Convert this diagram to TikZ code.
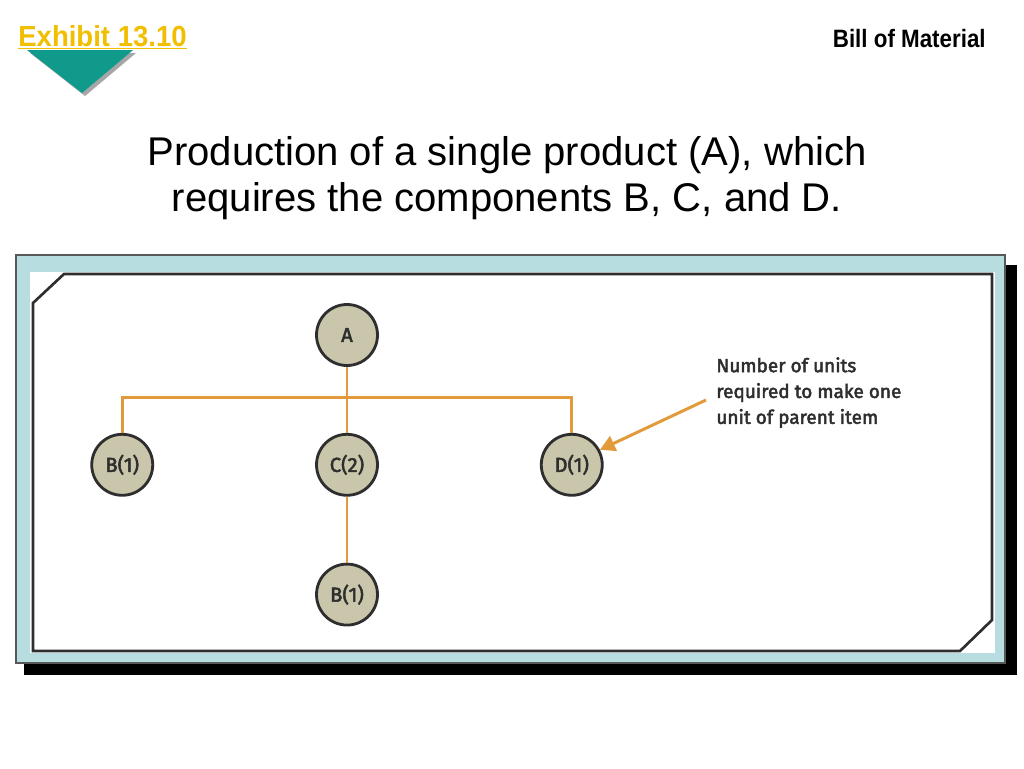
\documentclass[tikz,border=0pt]{standalone}
\usepackage{fontspec}
\setmainfont{Liberation Sans}
\newfontfamily\labelfont{Fira Sans}[FakeBold=2.5]
\usetikzlibrary{arrows.meta, calc, positioning}
\definecolor{exyellow}{HTML}{F2BE00}
\definecolor{exteal}{HTML}{109A8C}
\definecolor{framebl}{HTML}{B8DDE0}
\definecolor{bomorange}{HTML}{E39A3B}
\definecolor{partfill}{HTML}{C9C6AB}
\definecolor{partdraw}{HTML}{2E2E2E}

\begin{document}
\begin{tikzpicture}[
    x=0.02cm, y=-0.02cm,
    >={Triangle[width=3.2mm,length=3mm]},
    node distance = 1.32cm and 3.22cm,
    part/.style ={circle, draw=partdraw, line width=1.6pt, fill=partfill,
                  minimum size=1.22cm, inner sep=0pt,
                  font=\labelfont\fontsize{11.5}{12}\selectfont, text=partdraw},
    link/.style ={bomorange, line width=1.7pt},
    note/.style ={align=left, inner sep=0pt, text=partdraw,
                  font=\labelfont\fontsize{10.8}{14.7}\selectfont},
]
\useasboundingbox (0,0) rectangle (1024,768);
\fill[gray!70] (30,53) -- (136,53) -- (85,96) -- cycle;
\fill[exteal] (27,50) -- (133,50) -- (82,93) -- cycle;
\node[anchor=base west, text=exyellow, inner sep=0pt, xscale=0.95,
      font=\bfseries\fontsize{16.5}{18}\selectfont] (exhibit) at (18,46) {\underline{Exhibit 13.10}};
\node[anchor=base east, inner sep=0pt, xscale=0.89,
      font=\bfseries\fontsize{14.3}{16}\selectfont] (topic) at (986,47) {Bill of Material};
\node[align=center, font=\fontsize{22.8}{26}\selectfont] (title) at (507,178)
   {Production of a single product (A), which\\requires the components B, C, and D.};
\fill (24,265) rectangle (1017,675);
\filldraw[fill=framebl, draw=partdraw!80, line width=0.8pt] (16,255) rectangle (1005,663);
\fill[white] (30,272) rectangle (995,653);
\draw[partdraw, line width=1.5pt] (33,303) -- (64,274) -- (992,274) -- (992,620)
   -- (960,651) -- (33,651) -- cycle;
\node[part] (A) at (347,335) {A};
\node[part, below=of A] (C) {C(2)};
\node[part, left=of C] (B1) {B(1)};
\node[part, right=of C] (D) {D(1)};
\node[part, below=of C] (B2) {B(1)};
\coordinate (bus) at ($(A.south)!0.47!(C.north)$);
\draw[link] (A) -- (C);
\draw[link] (C) -- (B2);
\draw[link] (B1.north) |- (bus) -| (D.north);
\node[note, anchor=north west] (units) at (716,357)
   {Number of units\\required to make one\\unit of parent item};
\coordinate (tail) at (706,400);
\draw[link, ->] (tail) -- (D.28);
\end{tikzpicture}
\end{document}
